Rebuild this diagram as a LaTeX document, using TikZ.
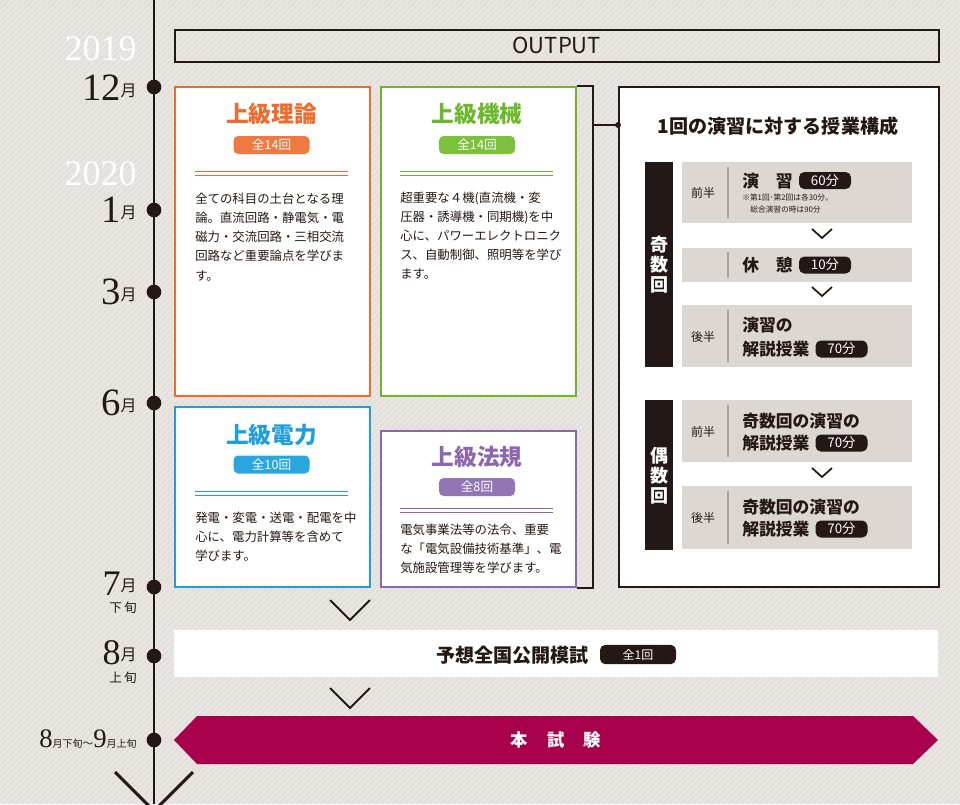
\documentclass[tikz,border=0pt]{standalone}
\usepackage{fontspec}
\newfontfamily\jp{Noto Sans CJK JP}
\newfontfamily\dig{Liberation Serif}
\definecolor{bgc}{HTML}{E3DFDB}
\definecolor{stripec}{HTML}{ECE9E6}
\definecolor{tlc}{HTML}{231815}
\definecolor{orng}{HTML}{EC6B2D}
\definecolor{orngP}{HTML}{EE7A42}
\definecolor{grn}{HTML}{6BB92B}
\definecolor{grnP}{HTML}{7CC03C}
\definecolor{blu}{HTML}{1E9EDB}
\definecolor{bluP}{HTML}{2AA6DF}
\definecolor{prp}{HTML}{8C67B0}
\definecolor{prpP}{HTML}{9275B5}
\definecolor{crim}{HTML}{A9004E}
\definecolor{greyb}{HTML}{DDD7D3}
\definecolor{divc}{HTML}{A8A19D}
\begin{document}
\begin{tikzpicture}[x=0.75pt,y=-0.75pt,
  stripe/.style={stripec,line width=0.9pt},
  tl/.style={tlc,line width=2.2pt},
  tdot/.style={circle,fill=tlc,inner sep=0pt,minimum size=11pt},
  yeartxt/.style={anchor=base east,text=white,font=\dig\fontsize{27}{27}\selectfont,inner sep=0pt},
  montxt/.style={anchor=base east,text=tlc,font=\dig\fontsize{29}{29}\selectfont,inner sep=0pt},
  subtxt/.style={anchor=east,text=tlc,font=\jp\fontsize{9.5}{9.5}\selectfont,inner sep=0pt},
  card/.style={anchor=north west,fill=white,line width=1.6pt,inner sep=0pt},
  ttl/.style={font=\jp\bfseries\fontsize{17}{17}\selectfont,inner sep=0pt},
  pill/.style={rounded corners=3.5pt,text=white,font=\jp\fontsize{9.5}{9.5}\selectfont,minimum width=57pt,minimum height=13.5pt,inner sep=0pt},
  dl/.style={line width=0.75pt},
  body/.style={anchor=north west,align=left,text=tlc,font=\jp\fontsize{9.3}{14.3}\selectfont,inner sep=0pt},
  frame/.style={anchor=north west,draw=tlc,line width=1.2pt,inner sep=0pt},
  gbox/.style={anchor=north west,fill=greyb,minimum width=172.5pt,inner sep=0pt},
  divl/.style={divc,line width=0.8pt},
  half/.style={text=tlc,font=\jp\fontsize{9}{9}\selectfont,inner sep=0pt},
  bt/.style={anchor=west,text=tlc,font=\jp\bfseries\fontsize{12.6}{17}\selectfont,inner sep=0pt},
  mpill/.style={fill=tlc,rounded corners=4pt,text=white,font=\jp\fontsize{10}{10}\selectfont,minimum width=39pt,minimum height=12.75pt,inner sep=0pt},
  note/.style={anchor=west,text=tlc,font=\jp\fontsize{5.8}{5.8}\selectfont,inner sep=0pt},
  bar/.style={anchor=north west,fill=tlc,minimum width=21pt,inner sep=0pt},
  bartxt/.style={align=center,text=white,font=\jp\bfseries\fontsize{13.5}{15}\selectfont,inner sep=0pt},
  chev/.style={tlc,line width=1.3pt},
  bigchev/.style={tlc,line width=1.4pt},
  brk/.style={tlc,line width=1.2pt}
]
\useasboundingbox (0,0) rectangle (960,804);
\fill[bgc] (0,0) rectangle (960,804);
\begin{scope}
  \clip (0,0) rectangle (960,804);
  \foreach \i in {-810,-804,...,966} \draw[stripe] (\i,804) -- ++(804,-804);
\end{scope}

% ---------- timeline ----------
\coordinate (tltop) at (154,0);
\coordinate (tlbot) at (154,804);
\draw[tl] (tltop) -- (tlbot);
\coordinate (vl) at (115,772);
\coordinate (vr) at (193,772);
\coordinate (vm) at (154,811);
\draw[tl] (vl) -- (vm) -- (vr);

\node[tdot] (d12) at (154,87) {};
\node[tdot] (d1) at (154,210) {};
\node[tdot] (d3) at (154,292) {};
\node[tdot] (d6) at (154,403) {};
\node[tdot] (d7) at (154,587) {};
\node[tdot] (d8) at (154,656) {};
\node[tdot] (d89) at (154,740) {};

\node[yeartxt] (y2019) at (137,60) {2019};
\node[yeartxt] (y2020) at (137,185) {2020};
\node[montxt] (m12) at (137,100) {12\raisebox{3pt}{\jp\fontsize{12}{12}\selectfont 月}};
\node[montxt] (m1) at (137,222) {1\raisebox{3pt}{\jp\fontsize{12}{12}\selectfont 月}};
\node[montxt] (m3) at (137,304) {3\raisebox{3pt}{\jp\fontsize{12}{12}\selectfont 月}};
\node[montxt] (m6) at (137,415) {6\raisebox{3pt}{\jp\fontsize{12}{12}\selectfont 月}};
\node[montxt,font=\dig\fontsize{27}{27}\selectfont] (m7) at (137,595) {7\raisebox{3pt}{\jp\fontsize{12}{12}\selectfont 月}};
\node[subtxt] (s7) at (137,607.5) {下\,旬};
\node[montxt,font=\dig\fontsize{27}{27}\selectfont] (m8) at (137,664) {8\raisebox{3pt}{\jp\fontsize{12}{12}\selectfont 月}};
\node[subtxt] (s8) at (137,677.5) {上\,旬};
\node[montxt,font=\dig\fontsize{20}{20}\selectfont] (m89) at (137,747) {8{\jp\fontsize{7.5}{7.5}\selectfont 月下旬}{\jp\fontsize{8}{8}\selectfont 〜}9{\jp\fontsize{7.5}{7.5}\selectfont 月上旬}};

% ---------- OUTPUT ----------
\node[frame,minimum width=573pt,minimum height=24pt] (output) at (174,29) {};
\node[text=tlc,font=\jp\fontsize{16.5}{16.5}\selectfont,inner sep=0pt] (outtxt) at (output.center) {OUTPUT};

% ---------- cards ----------
\node[card,draw=orng,minimum width=146.25pt,minimum height=231.75pt] (theory) at (174,86) {};
\node[ttl,text=orng] (theoryT) at (271.5,114) {上級理論};
\node[pill,fill=orngP] (theoryP) at (271.5,145) {全14回};
\draw[dl,orng] (195,171.5) -- (348,171.5);
\draw[dl,orng] (195,175.5) -- (348,175.5);
\node[body] (theoryB) at (195,193) {全ての科目の土台となる理\\論。直流回路・静電気・電\\磁力・交流回路・三相交流\\回路など重要論点を学びま\\す。};

\node[card,draw=grn,minimum width=146.25pt,minimum height=231.75pt] (machine) at (380,86) {};
\node[ttl,text=grn] (machineT) at (477,114) {上級機械};
\node[pill,fill=grnP] (machineP) at (477,145) {全14回};
\draw[dl,grn] (400,171.5) -- (553,171.5);
\draw[dl,grn] (400,175.5) -- (553,175.5);
\node[body] (machineB) at (400,192) {超重要な４機(直流機・変\\圧器・誘導機・同期機)を中\\心に、パワーエレクトロニク\\ス、自動制御、照明等を学び\\ます。};

\node[card,draw=blu,minimum width=146.25pt,minimum height=135pt] (power) at (174,406) {};
\node[ttl,text=blu] (powerT) at (271.5,435) {上級電力};
\node[pill,fill=bluP] (powerP) at (271.5,464.5) {全10回};
\draw[dl,blu] (195,491.5) -- (348,491.5);
\draw[dl,blu] (195,495.5) -- (348,495.5);
\node[body] (powerB) at (195,512) {発電・変電・送電・配電を中\\心に、電力計算等を含めて\\学びます。};

\node[card,draw=prp,minimum width=146.25pt,minimum height=117pt] (law) at (380,430) {};
\node[ttl,text=prp] (lawT) at (477,457) {上級法規};
\node[pill,fill=prpP] (lawP) at (477,487) {全8回};
\draw[dl,prp] (400,508.5) -- (553,508.5);
\draw[dl,prp] (400,512.5) -- (553,512.5);
\node[body] (lawB) at (400,524) {電気事業法等の法令、重要\\な「電気設備技術基準」、電\\気施設管理等を学びます。};

% ---------- bracket & panel ----------
\node[frame,fill=white,minimum width=240pt,minimum height=375pt] (panel) at (618,86) {};
\coordinate (bk) at (593,125);
\draw[brk] (machine.north east) -| (bk) |- (law.south east);
\draw[brk] (bk) -- (panel.west |- bk);
\fill[tlc] (panel.west |- bk) circle (2.2pt);

\node[text=tlc,font=\jp\bfseries\fontsize{14.3}{14.3}\selectfont,inner sep=0pt] (panelT) at (778,126) {1回の演習に対する授業構成};

\node[bar,minimum height=153.75pt] (oddbar) at (645,162) {};
\node[bartxt] (oddtxt) at (oddbar.center) {奇\\数\\回};
\node[bar,minimum height=112.5pt] (evenbar) at (645,400) {};
\node[bartxt] (eventxt) at (evenbar.center) {偶\\数\\回};

% odd boxes
\node[gbox,minimum height=45.75pt] (b1) at (682,162) {};
\draw[divl] (728,167) -- (728,218);
\node[half] (b1h) at (703,193) {前半};
\node[bt] (b1t) at (742,181) {演\hspace{1em}習};
\node[mpill] (b1p) at (825,180.5) {60分};
\node[note] (b1n1) at (742,198) {※第1回･第2回は各30分。};
\node[note] (b1n2) at (750,210) {総合演習の時は90分};

\node[gbox,minimum height=25.5pt] (b2) at (682,248) {};
\draw[divl] (728,252) -- (728,278);
\node[bt] (b2t) at (742,265) {休\hspace{1em}憩};
\node[mpill] (b2p) at (825,265) {10分};

\node[gbox,minimum height=46.5pt] (b3) at (682,305) {};
\draw[divl] (728,310) -- (728,362);
\node[half] (b3h) at (703,337) {後半};
\node[bt] (b3t1) at (742,325) {演習の};
\node[bt] (b3t2) at (742,349) {解説授業};
\node[mpill] (b3p) at (841.5,349) {70分};

\draw[chev] (812,229) -- (822,238) -- (832,229);
\draw[chev] (812,287) -- (822,296) -- (832,287);

% even boxes
\node[gbox,minimum height=46.5pt] (b4) at (682,400) {};
\draw[divl] (728,405) -- (728,457);
\node[half] (b4h) at (703,432) {前半};
\node[bt] (b4t1) at (742,421) {奇数回の演習の};
\node[bt] (b4t2) at (742,443) {解説授業};
\node[mpill] (b4p) at (841.5,443) {70分};

\node[gbox,minimum height=47.25pt] (b5) at (682,486) {};
\draw[divl] (728,491) -- (728,544);
\node[half] (b5h) at (703,518) {後半};
\node[bt] (b5t1) at (742,507) {奇数回の演習の};
\node[bt] (b5t2) at (742,529) {解説授業};
\node[mpill] (b5p) at (841.5,529) {70分};

\draw[chev] (812,468) -- (822,477) -- (832,468);

% ---------- chevrons between stages ----------
\draw[bigchev] (330,600) -- (350,620) -- (370,600);
\draw[bigchev] (330,688) -- (350,708) -- (370,688);

% ---------- mock exam ----------
\node[anchor=north west,fill=white,minimum width=573pt,minimum height=35.25pt,inner sep=0pt] (mock) at (174,630) {};
\node[anchor=west,text=tlc,font=\jp\bfseries\fontsize{14.3}{14.3}\selectfont,inner sep=0pt] (mockT) at (436,655) {予想全国公開模試};
\node[fill=tlc,rounded corners=4pt,text=white,font=\jp\fontsize{9}{9}\selectfont,minimum width=57pt,minimum height=14.5pt,inner sep=0pt] (mockP) at (638,654.5) {全1回};

% ---------- main exam ----------
\fill[crim] (174,740) -- (197,716) -- (913,716) -- (938,740) -- (913,764) -- (197,764) -- cycle;
\node[text=white,font=\jp\bfseries\fontsize{13}{13}\selectfont,inner sep=0pt] (exam) at (556,740) {本\hspace{1.1em}試\hspace{1.1em}験};
\end{tikzpicture}
\end{document}
